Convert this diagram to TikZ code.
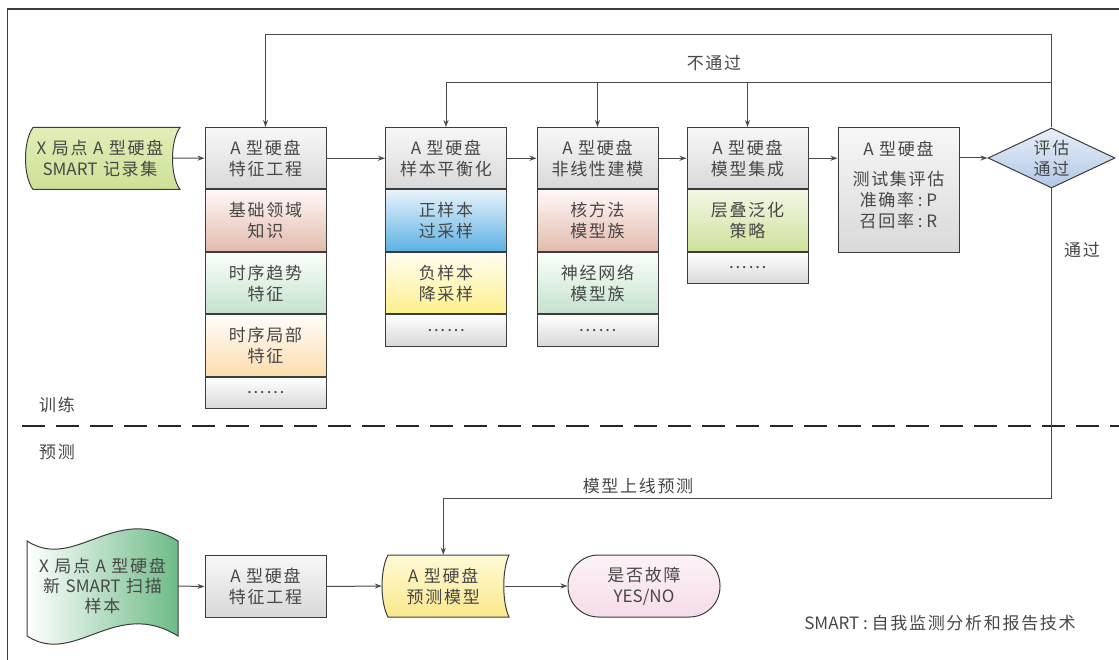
\documentclass[tikz,border=0pt]{standalone}
\usepackage{fontspec}
\setmainfont{Noto Sans CJK SC}[LetterSpace=10]
\newfontfamily\lat{Noto Sans CJK SC}
\usetikzlibrary{arrows.meta,positioning,shapes.geometric}
\definecolor{txt}{HTML}{474747}
\definecolor{bord}{HTML}{3C3C3C}
\definecolor{lin}{HTML}{4A4A4A}
\begin{document}
\begin{tikzpicture}[x=1pt,y=-1pt,
  font=\fontsize{17}{21}\selectfont,
  every node/.append style={text=txt},
  arr/.style={draw=lin,line width=1pt,-{Stealth[length=7pt,width=5pt]}},
  conn/.style={draw=lin,line width=1pt},
  cell/.style={draw=bord,line width=1pt,minimum width=121,minimum height=61.5,inner sep=0,align=center,anchor=north},
  dots/.style={cell,minimum height=31,top color=white,bottom color=black!15},
  hdr/.style={top color=black!3,bottom color=black!15},
  pinkc/.style={top color=red!3,bottom color={rgb,255:red,227;green,187;blue,172}},
  greenc/.style={top color=green!2,bottom color={rgb,255:red,197;green,225;blue,205}},
  peachc/.style={top color=orange!2,bottom color={rgb,255:red,252;green,221;blue,174}},
  bluec/.style={top color={rgb,255:red,232;green,243;blue,251},bottom color={rgb,255:red,92;green,177;blue,227}},
  yellowc/.style={top color={rgb,255:red,255;green,253;blue,240},bottom color={rgb,255:red,253;green,240;blue,140}},
  olivec/.style={top color={rgb,255:red,242;green,247;blue,228},bottom color={rgb,255:red,206;green,225;blue,156}},
  lbl/.style={inner sep=0,align=center}
]
\useasboundingbox (0,0) rectangle (1119,660);
% frame
\draw[bord,line width=1.5pt] (7.5,660) -- (7.5,9) -- (1119,9);
% dashed separator
\draw[black!85,line width=2.6pt,dash pattern=on 23pt off 11pt] (22,426) -- (1119,426);

% ---------- training row ----------
\path[draw=bord,line width=1pt,top color={rgb,255:red,226;green,238;blue,184},bottom color={rgb,255:red,205;green,225;blue,150}]
  (33,127.5) -- (180,127.5) .. controls (170,141) and (170,176) .. (180,189.5)
  -- (33,189.5) .. controls (23,176) and (23,141) .. (33,127.5) -- cycle;
\node[lbl,minimum width=146,minimum height=62] (src) at (100,158) {{\lat X} 局点 {\lat A} 型硬盘\\{\lat SMART} 记录集};

% feature engineering column
\node[cell,hdr] (fe) at (265.5,127) {{\lat A} 型硬盘\\特征工程};
\node[cell,pinkc,below=0pt of fe] (fe1) {基础领域\\知识};
\node[cell,greenc,below=0pt of fe1] (fe2) {时序趋势\\特征};
\node[cell,peachc,below=0pt of fe2] (fe3) {时序局部\\特征};
\node[dots,below=0pt of fe3] (fe4) {……};

% sample balancing
\node[cell,hdr] (sb) at (446,127) {{\lat A} 型硬盘\\样本平衡化};
\node[cell,bluec,below=0pt of sb] (sb1) {正样本\\过采样};
\node[cell,yellowc,below=0pt of sb1] (sb2) {负样本\\降采样};
\node[dots,below=0pt of sb2] (sb3) {……};

% nonlinear modelling
\node[cell,hdr] (nl) at (597.5,127) {{\lat A} 型硬盘\\非线性建模};
\node[cell,pinkc,below=0pt of nl] (nl1) {核方法\\模型族};
\node[cell,greenc,below=0pt of nl1] (nl2) {神经网络\\模型族};
\node[dots,below=0pt of nl2] (nl3) {……};

% ensemble
\node[cell,hdr] (en) at (747.5,127) {{\lat A} 型硬盘\\模型集成};
\node[cell,olivec,below=0pt of en] (en1) {层叠泛化\\策略};
\node[dots,below=0pt of en1] (en2) {……};

% test evaluation
\node[cell,hdr,minimum height=125] (te) at (898.5,127) {};
\node[lbl] (tetxt) at (898.5,185) {{\lat A} 型硬盘\\[9pt]测试集评估\\准确率{\lat\ :\ P}\\召回率{\lat\ :\ R}};

% decision
\node[diamond,draw=bord,line width=1pt,minimum width=127,minimum height=60,inner sep=0,
  top color={rgb,255:red,232;green,239;blue,248},bottom color={rgb,255:red,178;green,200;blue,230}] (dia) at (1051.5,158) {};
\node[lbl] (diatxt) at (dia.center) {评估\\通过};

% chain arrows
\draw[arr] (src.east) -- (fe.west);
\draw[arr] (fe.east) -- (sb.west);
\draw[arr] (sb.east) -- (nl.west);
\draw[arr] (nl.east) -- (en.west);
\draw[arr] (en.east) -- (en.east -| te.west);
\draw[arr] (te.east |- dia.west) -- (dia.west);

% feedback
\coordinate (topY) at (0,35);
\coordinate (midY) at (0,83);
\coordinate (botY) at (0,498);
\draw[arr] (dia.north) -- (dia.north |- topY) -| (fe.north);
\draw[arr] (dia.north |- midY) -| (sb.north);
\draw[arr] (nl.north |- midY) -- (nl.north);
\draw[arr] (en.north |- midY) -- (en.north);

% ---------- prediction row ----------
\path[draw=bord,line width=1pt,left color=white,right color={rgb,255:red,109;green,187;blue,134}]
  (27,541) .. controls (75,572) and (115,502) .. (178,541) -- (178,636)
  .. controls (115,597) and (75,667) .. (27,636) -- cycle;
\node[lbl,minimum width=151,minimum height=62,font=\fontsize{17}{20}\selectfont] (src2) at (102.5,586) {{\lat X} 局点 {\lat A} 型硬盘\\新 {\lat SMART} 扫描\\样本};

\node[cell,hdr,minimum height=62] (bfe) at (265.5,555) {{\lat A} 型硬盘\\特征工程};

\path[draw=bord,line width=1pt,top color={rgb,255:red,255;green,250;blue,215},bottom color={rgb,255:red,250;green,232;blue,140}]
  (388,555) -- (509,555) .. controls (502,570) and (502,602) .. (509,617)
  -- (388,617) .. controls (380,602) and (380,570) .. (388,555) -- cycle;
\node[lbl,minimum width=122.5,minimum height=62] (pm) at (443.25,586) {{\lat A} 型硬盘\\预测模型};

\node[draw=bord,line width=1pt,rounded corners=30.5pt,minimum width=152,minimum height=62,inner sep=0,align=center,
  top color={rgb,255:red,252;green,242;blue,247},bottom color={rgb,255:red,246;green,220;blue,233}] (ys) at (644,586) {是否故障\\{\lat YES/NO}};

\draw[arr] (src2.east) -- (bfe.west);
\draw[arr] (bfe.east) -- (pm.west);
\draw[arr] (pm.east) -- (ys.west);
\draw[arr] (dia.south) -- (dia.south |- botY) -| (pm.north);

% labels
\node[lbl] (nopass) at (714,63) {不通过};
\node[lbl] (pass) at (1082,250) {通过};
\node[lbl] (online) at (638,486) {模型上线预测};
\node[lbl] (train) at (57,405) {训练};
\node[lbl] (pred) at (57,452) {预测};
\node[lbl] (note) at (940,623) {{\lat SMART\ :\ }自我监测分析和报告技术};
\end{tikzpicture}
\end{document}
